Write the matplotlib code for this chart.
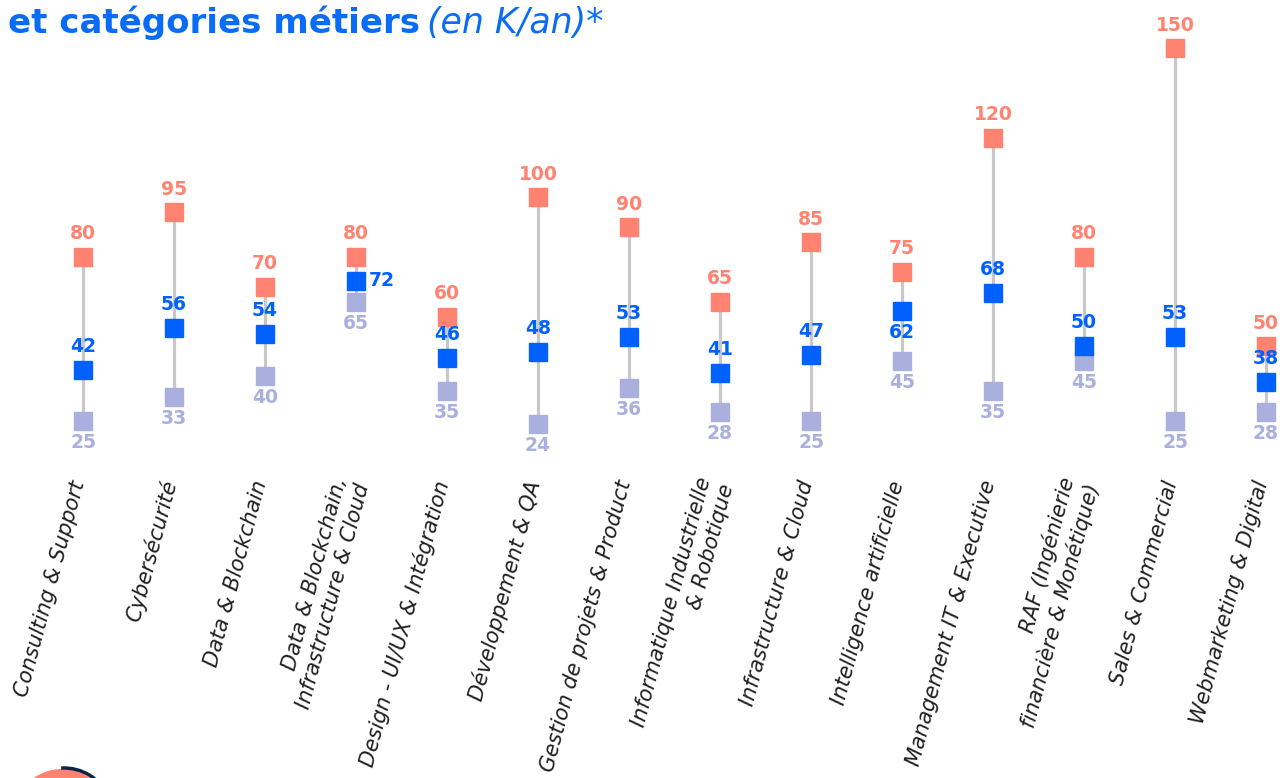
import matplotlib
matplotlib.use("Agg")
import matplotlib.pyplot as plt
from matplotlib.patches import Ellipse, Arc

plt.rcParams["font.family"] = "DejaVu Sans"

SALMON = "#FF8370"
BLUE = "#0061FF"
LAV = "#AAB0DE"
GREY = "#C8C8C8"
INK = "#1F1F1F"

categories = [
    "Consulting & Support", "Cybersécurité", "Data & Blockchain",
    "Data & Blockchain,\nInfrastructure & Cloud", "Design - UI/UX & Intégration",
    "Développement & QA", "Gestion de projets & Product",
    "Informatique Industrielle\n& Robotique", "Infrastructure & Cloud",
    "Intelligence artificielle", "Management IT & Executive",
    "RAF (Ingénierie\nfinancière & Monétique)", "Sales & Commercial",
    "Webmarketing & Digital",
]
sal_min = [25, 33, 40, 65, 35, 24, 36, 28, 25, 45, 35, 45, 25, 28]
sal_moy = [42, 56, 54, 72, 46, 48, 53, 41, 47, 62, 68, 50, 53, 38]
sal_max = [80, 95, 70, 80, 60, 100, 90, 65, 85, 75, 120, 80, 150, 50]

W, H = 1286, 778
fig = plt.figure(figsize=(W / 100, H / 100), dpi=100)
fig.patch.set_facecolor("white")
ax = fig.add_axes([0, 0, 1, 1])
ax.axis("off")

# pixel layout: category i at x = 83 + 91 i ; value 0 at y = 495.6 px, 2.984 px per K
ax.set_xlim(-83 / 91, (W - 83) / 91)
ax.set_ylim((495.6 - H) / 2.984, 495.6 / 2.984)

xs = list(range(len(categories)))

# dumbbells
for x, lo, hi in zip(xs, sal_min, sal_max):
    ax.plot([x, x], [lo, hi], color=GREY, lw=2.3, zorder=1, solid_capstyle="butt")
ax.plot(xs, sal_min, "s", color=LAV, ms=12.5, zorder=2, ls="none")
ax.plot(xs, sal_moy, "s", color=BLUE, ms=12.5, zorder=3, ls="none")
ax.plot(xs, sal_max, "s", color=SALMON, ms=12.5, zorder=3, ls="none")

fs = 13.5
lab = dict(textcoords="offset points", ha="center", va="center", fontsize=fs, fontweight="bold")
for i, x in enumerate(xs):
    ax.annotate(str(sal_max[i]), (x, sal_max[i]), xytext=(0, 16.5), color=SALMON, **lab)
    ax.annotate(str(sal_min[i]), (x, sal_min[i]), xytext=(0, -15.5), color=LAV, **lab)
    if i == 3:
        ax.annotate(str(sal_moy[i]), (x, sal_moy[i]), xytext=(9, 0), color=BLUE,
                    textcoords="offset points", ha="left", va="center",
                    fontsize=fs, fontweight="bold")
    elif i == 9:
        ax.annotate(str(sal_moy[i]), (x, sal_moy[i]), xytext=(0, -15.5), color=BLUE, **lab)
    else:
        ax.annotate(str(sal_moy[i]), (x, sal_moy[i]), xytext=(0, 17), color=BLUE, **lab)

# rotated category labels
y_lab = (495.6 - 481) / 2.984
for x, name in zip(xs, categories):
    ax.text(x - 0.04, y_lab, name, rotation=75, rotation_mode="anchor",
            ha="right", va="center", multialignment="right",
            fontsize=15, style="italic", color=INK)

# title (cropped at top of the picture)
fig.text(8 / W, 1 - 33 / H, "et catégories métiers", color="#0A6CF5",
         fontsize=24.5, fontweight="bold", ha="left", va="baseline")
fig.text(427 / W, 1 - 33 / H, "(en K/an)*", color="#0A6CF5",
         fontsize=25, style="italic", fontweight="light", ha="left", va="baseline")

# decorative logo circle, bottom-left, mostly outside the frame
fig.add_artist(Ellipse((62 / W, 1 - 818 / H), 98 / W, 98 / H,
                       transform=fig.transFigure, fc=SALMON, ec="none"))
fig.add_artist(Arc((64 / W, 1 - 817 / H), 98 / W, 98 / H, theta1=35, theta2=92,
                   transform=fig.transFigure, color="#0E2244", lw=2.5))

fig.savefig("out.png", dpi=100, facecolor="white")
